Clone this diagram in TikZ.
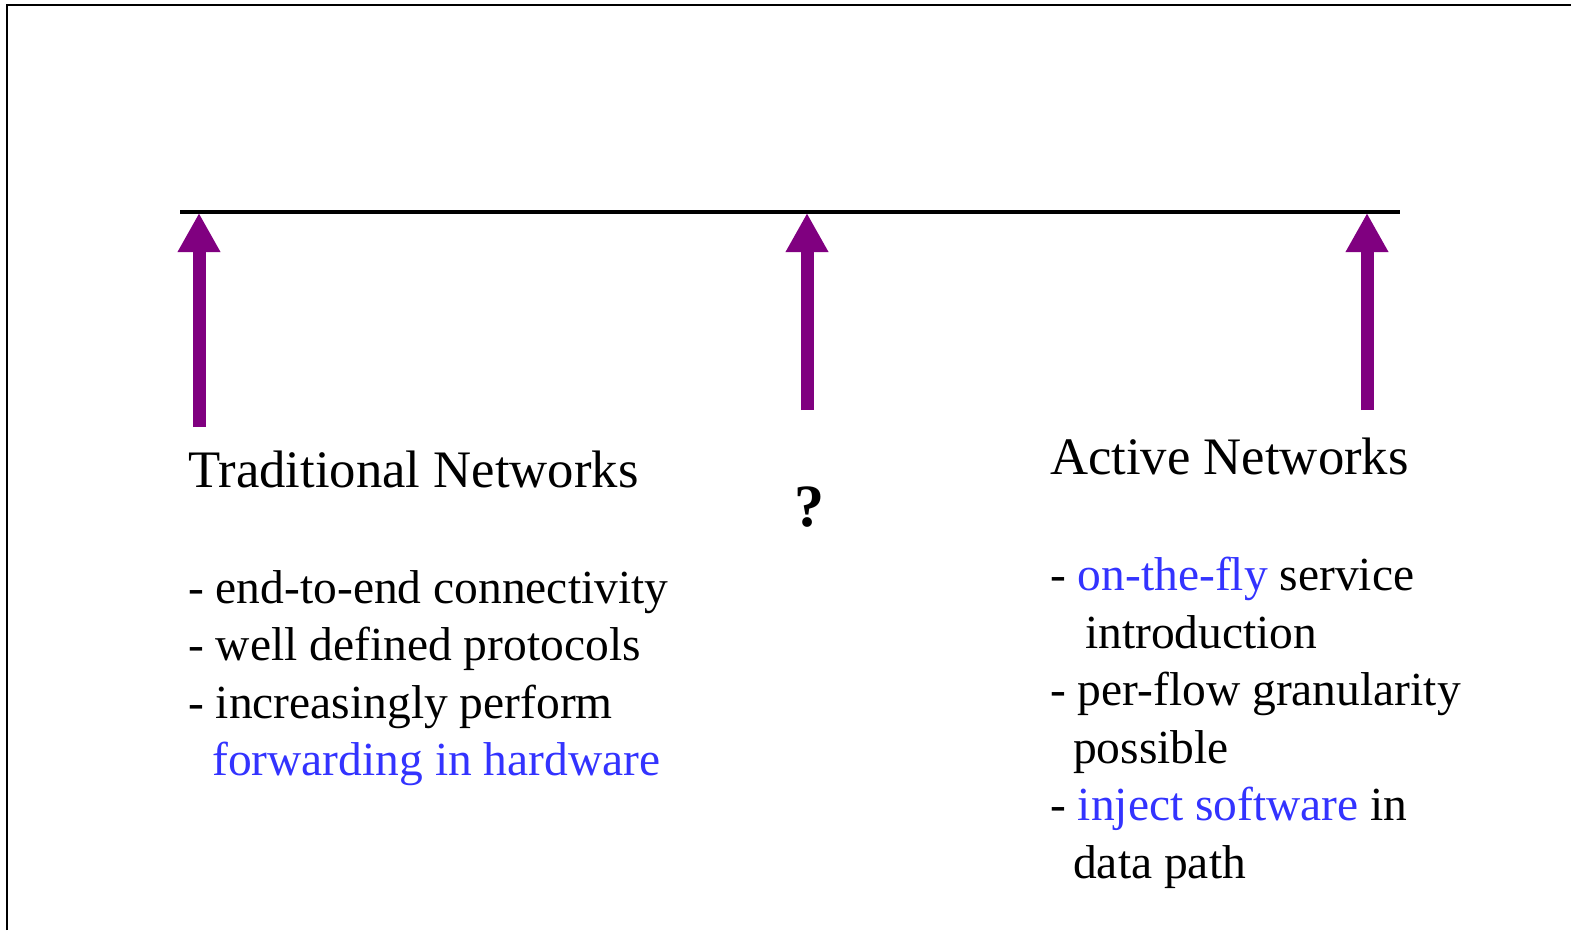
\documentclass[tikz,border=0pt]{standalone}
\usepackage{fontspec}
\setmainfont{Liberation Serif}
\usetikzlibrary{arrows.meta}
\definecolor{hlblue}{RGB}{51,51,255}
\definecolor{arrowpurple}{RGB}{128,0,128}
\tikzset{
  frameline/.style={line width=2.5pt, black},
  timeline/.style={line width=4.5pt, black},
  uparrow/.style={arrowpurple, line width=13pt,
    -{Triangle[width=40pt,length=39pt]}},
  heading/.style={anchor=base west, inner sep=0pt,
    font=\fontsize{52.7}{60}\selectfont},
  item/.style={anchor=base west, inner sep=0pt,
    font=\fontsize{47.5}{57}\selectfont},
}
\begin{document}
\begin{tikzpicture}[x=1pt, y=-1pt]
  \useasboundingbox (0,0) rectangle (1571,930);
  % frame edges
  \draw[frameline] (7,930) -- (7,5) -- (1571,5);
  % timeline
  \coordinate (lineL) at (180,212);
  \coordinate (lineR) at (1400,212);
  \draw[timeline] (lineL) -- (lineR);
  % arrows pointing at the timeline
  \coordinate (t1) at (199,213);   \coordinate (b1) at (199,427);
  \coordinate (t2) at (807,213);   \coordinate (b2) at (807,410);
  \coordinate (t3) at (1367,213);  \coordinate (b3) at (1367,410);
  \draw[uparrow] (b1) -- (t1);
  \draw[uparrow] (b2) -- (t2);
  \draw[uparrow] (b3) -- (t3);
  % headings
  \node[heading] (trad) at (188,487) {Traditional Networks};
  \node[heading] (active) at (1050,474) {Active Networks};
  \node[anchor=base, inner sep=0pt, font=\fontsize{60}{66}\selectfont\bfseries] (q) at (809,526) {?};
  % left column
  \node[item] (l1) at (188,603) {- end-to-end connectivity};
  \node[item] (l2) at (188,660.5) {- well defined protocols};
  \node[item] (l3) at (188,718) {- increasingly perform};
  \node[item] (l4) at (212,775.5) {\textcolor{hlblue}{forwarding in hardware}};
  % right column
  \node[item] (r1) at (1050,590) {- \textcolor{hlblue}{on-the-fly} service};
  \node[item] (r2) at (1085,648) {introduction};
  \node[item] (r3) at (1050,705) {- per-flow granularity};
  \node[item] (r4) at (1073,763) {possible};
  \node[item] (r5) at (1050,820) {- \textcolor{hlblue}{inject software} in};
  \node[item] (r6) at (1073,878) {data path};
\end{tikzpicture}
\end{document}
